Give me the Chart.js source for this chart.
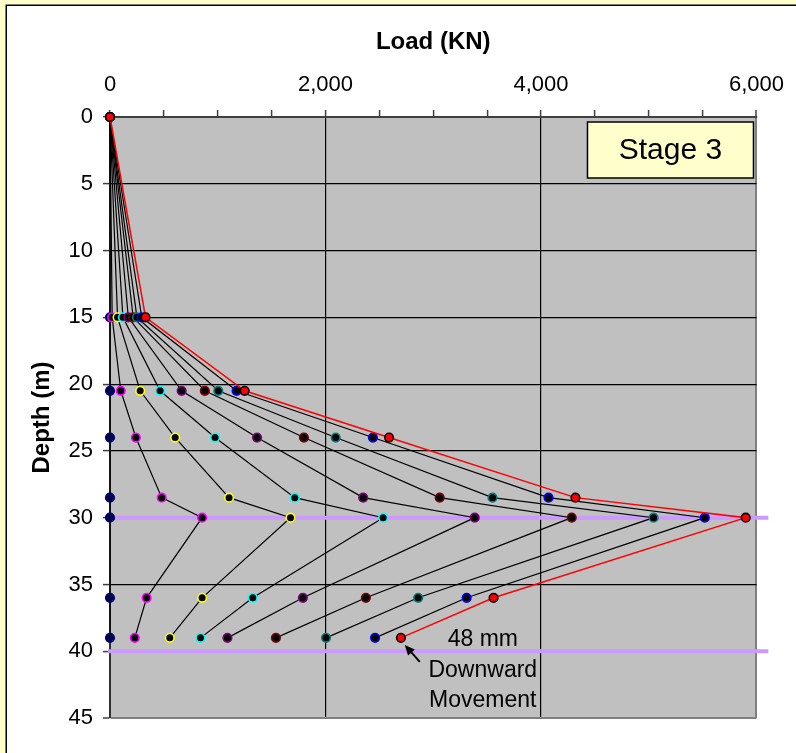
<!DOCTYPE html>
<html>
<head>
<meta charset="utf-8">
<title>Load distribution with depth – Stage 3</title>
<script src="https://cdn.jsdelivr.net/npm/chart.js@4/dist/chart.umd.min.js"></script>
<style>
  html, body { margin: 0; padding: 0; background: #ffffff; }
  #wrap { width: 796px; height: 753px; }
</style>
</head>
<body>
<div id="wrap"><canvas id="chart" width="796" height="753"></canvas></div>
<script>
// Depths (m) at which the pile load was measured
const depths = [0, 15, 20.5, 24, 28.5, 30, 36, 39];

// Axial load (KN) at each depth, one array per load increment
const loadStep1 = [0, 0, 0, 0, 0, 0, 0, 0];
const loadStep2 = [0, 20, 100, 240, 480, 855, 340, 230];
const loadStep3 = [0, 70, 280, 605, 1105, 1675, 855, 555];
const loadStep4 = [0, 120, 465, 975, 1715, 2535, 1325, 840];
const loadStep5 = [0, 170, 665, 1365, 2350, 3385, 1790, 1090];
const loadStep6 = [0, 215, 880, 1800, 3060, 4285, 2375, 1540];
const loadStep7 = [0, 250, 1005, 2095, 3550, 5045, 2860, 2005];
const loadStep8 = [0, 295, 1175, 2440, 4070, 5520, 3310, 2460];
const loadStep9 = [0, 330, 1250, 2590, 4320, 5900, 3560, 2700];

// Horizontal reference levels (m) and their load extent (KN)
const levelDepths = [30, 40];
const levelSpan = [-20, 6110];

// Axis ticks
const loadTicks = [0, 2000, 4000, 6000];
const depthTicks = [0, 5, 10, 15, 20, 25, 30, 35, 40, 45];

// Text labels
const stageLabel = 'Stage 3';
const noteLines = ['48 mm', 'Downward', 'Movement'];
const noteAt = { x: 3460, y: 39.1 };
const arrowFrom = { x: 2875, y: 40.8 };
const arrowTo = { x: 2736, y: 39.53 };

const FONT = '"Liberation Sans", Arial, Helvetica, sans-serif';

const steps = [loadStep1, loadStep2, loadStep3, loadStep4, loadStep5,
               loadStep6, loadStep7, loadStep8, loadStep9];
const markerEdge = ['#000080', '#FF00FF', '#FFFF00', '#00FFFF', '#800080',
                    '#800000', '#008080', '#0000FF', '#000000'];
const markerFill = ['#000040', '#000000', '#000000', '#000000', '#000000',
                    '#000000', '#000000', '#000000', '#FF0000'];
const lineColor = ['#000000', '#000000', '#000000', '#000000', '#000000',
                   '#000000', '#000000', '#000000', '#FF0000'];

const datasets = [];
steps.forEach((loads, i) => {
  datasets.push({
    label: 'Load step ' + (i + 1),
    data: loads.map((v, k) => ({ x: v, y: depths[k] })),
    showLine: true,
    clip: false,
    borderColor: lineColor[i],
    borderWidth: i === steps.length - 1 ? 1.5 : 1.2,
    pointRadius: 4.3,
    pointBorderWidth: 1.6,
    pointBackgroundColor: markerFill[i],
    pointBorderColor: markerEdge[i],
    order: steps.length - i
  });
});
levelDepths.forEach((d, i) => {
  datasets.push({
    label: 'Level ' + d,
    data: levelSpan.map(x => ({ x: x, y: d })),
    showLine: true,
    borderColor: '#CC99FF',
    borderWidth: 4,
    pointRadius: 0,
    clip: false,
    order: 50 + i
  });
});

// Page frame and grey plot area
const framePlugin = {
  id: 'frame',
  beforeDraw(chart) {
    const { ctx, chartArea: a, width, height } = chart;
    ctx.save();
    ctx.fillStyle = '#FFFFCC';
    ctx.fillRect(0, 0, width, height);
    ctx.fillStyle = '#FFFFFF';
    ctx.fillRect(6, 5, width - 6, height - 5);
    ctx.strokeStyle = '#000000';
    ctx.lineWidth = 1.5;
    ctx.beginPath();
    ctx.moveTo(6.25, height);
    ctx.lineTo(6.25, 5.25);
    ctx.lineTo(width, 5.25);
    ctx.stroke();
    ctx.fillStyle = '#C0C0C0';
    ctx.fillRect(a.left, a.top, a.right - a.left, a.bottom - a.top);
    ctx.restore();
  }
};

// Stage label box and movement note with arrow
const notesPlugin = {
  id: 'notes',
  afterDatasetsDraw(chart) {
    const { ctx, chartArea: a, scales: { x, y } } = chart;
    ctx.save();
    // stage box
    const bw = 166, bh = 56;
    const bx = a.right - 3 - bw, by = a.top + 5;
    ctx.fillStyle = '#FFFFCC';
    ctx.fillRect(bx, by, bw, bh);
    ctx.strokeStyle = '#000000';
    ctx.lineWidth = 1.5;
    ctx.strokeRect(bx, by, bw, bh);
    ctx.fillStyle = '#000000';
    ctx.font = '30px ' + FONT;
    ctx.textAlign = 'center';
    ctx.textBaseline = 'middle';
    ctx.fillText(stageLabel, bx + bw / 2, by + bh / 2 + 1);

    // note text
    ctx.font = '23px ' + FONT;
    const nx = x.getPixelForValue(noteAt.x);
    const ny = y.getPixelForValue(noteAt.y);
    const gaps = [0, 31.5, 61];
    noteLines.forEach((t, i) => ctx.fillText(t, nx, ny + gaps[i]));

    // arrow
    const x0 = x.getPixelForValue(arrowFrom.x), y0 = y.getPixelForValue(arrowFrom.y);
    const x1 = x.getPixelForValue(arrowTo.x), y1 = y.getPixelForValue(arrowTo.y);
    const ang = Math.atan2(y1 - y0, x1 - x0);
    const hl = 10, hw = 4.5;
    const bxp = x1 - hl * Math.cos(ang), byp = y1 - hl * Math.sin(ang);
    ctx.strokeStyle = '#000000';
    ctx.lineWidth = 2;
    ctx.beginPath();
    ctx.moveTo(x0, y0);
    ctx.lineTo(bxp, byp);
    ctx.stroke();
    ctx.beginPath();
    ctx.moveTo(x1, y1);
    ctx.lineTo(bxp + hw * Math.sin(ang), byp - hw * Math.cos(ang));
    ctx.lineTo(bxp - hw * Math.sin(ang), byp + hw * Math.cos(ang));
    ctx.closePath();
    ctx.fillStyle = '#000000';
    ctx.fill();
    ctx.restore();
  }
};

const PAD = { left: 10, top: 10, right: 39, bottom: 35 };

new Chart(document.getElementById('chart'), {
  type: 'scatter',
  data: { datasets },
  plugins: [framePlugin, notesPlugin],
  options: {
    responsive: false,
    devicePixelRatio: 1,
    animation: false,
    events: [],
    layout: { padding: PAD },
    plugins: { legend: { display: false }, tooltip: { enabled: false } },
    scales: {
      x: {
        type: 'linear',
        position: 'top',
        min: 0,
        max: 6000,
        afterFit(s) { s.height = 117 - PAD.top; },
        afterBuildTicks(s) {
          const t = [];
          for (let v = 0; v <= 6000; v += 500) t.push({ value: v });
          s.ticks = t;
        },
        ticks: {
          autoSkip: false,
          maxRotation: 0,
          padding: 12,
          color: '#000000',
          font: { family: FONT, size: 22 },
          callback: v => loadTicks.includes(v) ? v.toLocaleString('en-US') : ''
        },
        grid: {
          drawTicks: true,
          tickLength: 7,
          tickWidth: 1.5,
          tickColor: '#404040',
          lineWidth: c => (c.tick && c.tick.value === 6000) ? 2 : 1.2,
          color: c => {
            if (!c.tick) return 'rgba(0,0,0,0)';
            const v = c.tick.value;
            if (v === 6000) return '#808080';
            if (v === 0) return 'rgba(0,0,0,0)';
            return loadTicks.includes(v) ? '#000000' : 'rgba(0,0,0,0)';
          }
        },
        border: { display: true, color: '#404040', width: 2 },
        title: {
          display: true,
          text: 'Load (KN)',
          color: '#000000',
          font: { family: FONT, size: 24, weight: 'bold' },
          padding: { top: 18, bottom: 0 }
        }
      },
      y: {
        type: 'linear',
        position: 'left',
        reverse: true,
        min: 0,
        max: 45,
        afterFit(s) { s.width = 110 - PAD.left; },
        afterBuildTicks(s) { s.ticks = depthTicks.map(v => ({ value: v })); },
        ticks: {
          autoSkip: false,
          padding: 10,
          color: '#000000',
          font: { family: FONT, size: 22 }
        },
        grid: {
          drawTicks: true,
          tickLength: 7,
          tickWidth: 1.5,
          tickColor: '#404040',
          lineWidth: c => (c.tick && c.tick.value === 45) ? 2 : 1.2,
          color: c => {
            if (!c.tick) return 'rgba(0,0,0,0)';
            const v = c.tick.value;
            if (v === 45) return '#808080';
            if (v === 0) return 'rgba(0,0,0,0)';
            return '#000000';
          }
        },
        border: { display: true, color: '#303030', width: 2 },
        title: {
          display: true,
          text: 'Depth (m)',
          color: '#000000',
          font: { family: FONT, size: 24, weight: 'bold' },
          padding: { top: 18, bottom: 0 }
        }
      }
    }
  }
});
</script>
</body>
</html>
